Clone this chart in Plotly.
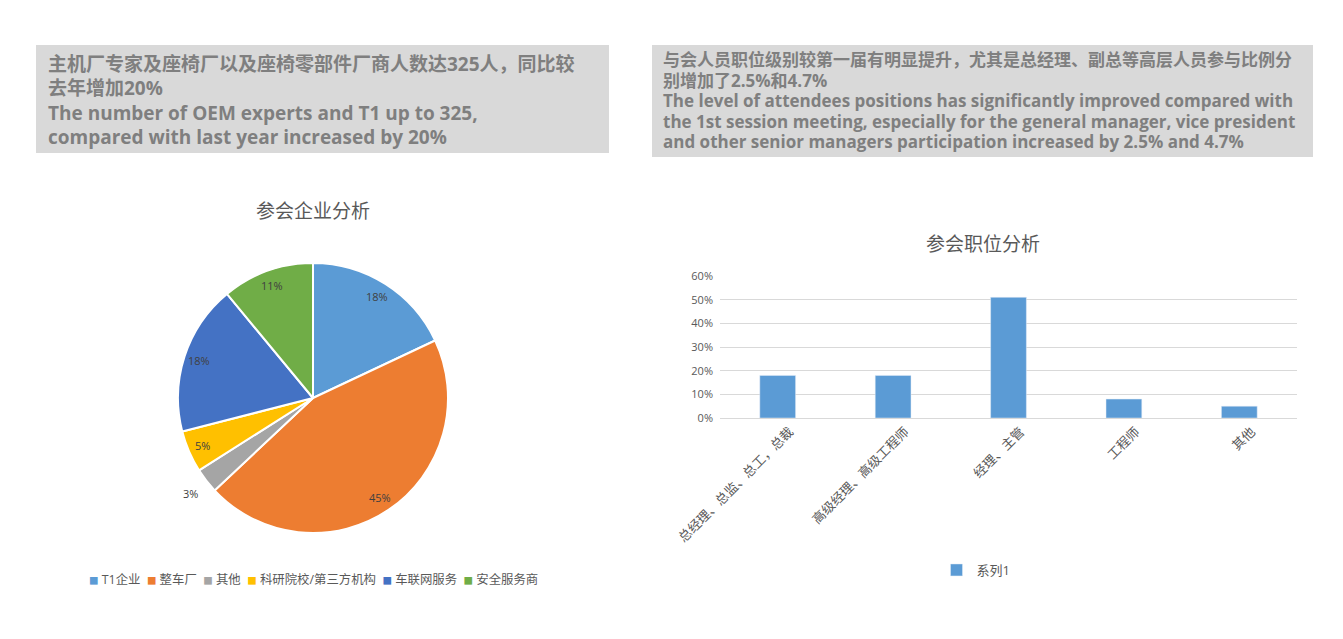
import math
import plotly.graph_objects as go

# ---- data ----
pie_title = "参会企业分析"
pie_labels = ["T1企业", "整车厂", "其他", "科研院校/第三方机构", "车联网服务", "安全服务商"]
pie_values = [18, 45, 3, 5, 18, 11]

bar_title = "参会职位分析"
bar_categories = ["总经理、总监、总工，总裁", "高级经理、高级工程师", "经理、主管", "工程师", "其他"]
bar_values = [0.18, 0.18, 0.51, 0.08, 0.05]
bar_series_name = "系列1"

left_lines = ["主机厂专家及座椅厂以及座椅零部件厂商人数达325人，同比较",
              "去年增加20%",
              "The number of OEM experts and T1 up to 325,",
              "compared with last year increased by 20%"]
right_lines = ["与会人员职位级别较第一届有明显提升，尤其是总经理、副总等高层人员参与比例分",
               "别增加了2.5%和4.7%",
               "The level of attendees positions has significantly improved compared with",
               "the 1st session meeting, especially for the general manager, vice president",
               "and other senior managers participation increased by 2.5% and 4.7%"]

# ---- styles ----
pie_colors = ["#5b9bd5", "#ed7d31", "#a5a5a5", "#ffc000", "#4472c4", "#70ad47"]
FONT = "Open Sans, Noto Sans CJK SC, sans-serif"
OFF = 8              # page body margin
W, H = 1343 - 2 * OFF, 639 - 2 * OFF


def px(x):
    return (x - OFF) / W


def py(y):
    return 1 - (y - OFF) / H


CX, CY, R = 313, 398, 135
LABEL_R_IN, LABEL_R_OUT = 120, 155

fig = go.Figure()

fig.add_trace(go.Pie(
    labels=pie_labels, values=pie_values, sort=False, direction="clockwise", rotation=0,
    marker=dict(colors=pie_colors, line=dict(color="white", width=2)),
    textinfo="none",
    domain=dict(x=[px(CX - R), px(CX + R)], y=[py(CY + R), py(CY - R)]),
    showlegend=False, hoverinfo="label+percent",
))

fig.add_trace(go.Bar(
    x=bar_categories, y=bar_values, name=bar_series_name,
    marker_color="#5b9bd5", xaxis="x", yaxis="y", legend="legend2",
    showlegend=True,
))

shapes = [
    dict(type="rect", xref="paper", yref="paper", x0=px(36), x1=px(609), y0=py(153), y1=py(45),
         fillcolor="#d9d9d9", line=dict(width=0), layer="below"),
    dict(type="rect", xref="paper", yref="paper", x0=px(652), x1=px(1313), y0=py(157), y1=py(45),
         fillcolor="#d9d9d9", line=dict(width=0), layer="below"),
]


def paragraph(lines, glyph_px):
    return "<br>".join(f'<span style="font-size:{glyph_px}px"><b>{ln}</b></span>' for ln in lines)


annotations = [
    # base font size sets the (tight) line spacing, span font size sets the glyph size
    dict(text=paragraph(left_lines, 19), xref="paper", yref="paper",
         x=px(46), y=py(100), xanchor="left", yanchor="middle", align="left",
         showarrow=False, font=dict(size=18.7, color="#7f7f7f", family=FONT)),
    dict(text=paragraph(right_lines, 17), xref="paper", yref="paper",
         x=px(661), y=py(100), xanchor="left", yanchor="middle", align="left",
         showarrow=False, font=dict(size=15.8, color="#7f7f7f", family=FONT)),
    dict(text=pie_title, xref="paper", yref="paper", x=px(313), y=py(211),
         xanchor="center", yanchor="middle", showarrow=False,
         font=dict(size=19, color="#595959", family=FONT)),
    dict(text=bar_title, xref="paper", yref="paper", x=px(983), y=py(244),
         xanchor="center", yanchor="middle", showarrow=False,
         font=dict(size=19, color="#595959", family=FONT)),
]

# pie data labels (placed near the outer edge like the original)
total = sum(pie_values)
cum = 0
for v in pie_values:
    mid = (cum + v / 2) / total * 2 * math.pi
    cum += v
    r = LABEL_R_OUT if v / total < 0.04 else LABEL_R_IN
    annotations.append(dict(text=f"{round(v / total * 100)}%", xref="paper", yref="paper",
                            x=px(CX + r * math.sin(mid)), y=py(CY - r * math.cos(mid)),
                            xanchor="center", yanchor="middle", showarrow=False,
                            font=dict(size=11, color="#404040", family=FONT)))

# pie legend
legend_parts = [f'<span style="color:{c};font-size:9.5px">■</span> {lab}'
                for lab, c in zip(pie_labels, pie_colors)]
annotations.append(dict(text="&nbsp;&nbsp;".join(legend_parts), xref="paper", yref="paper",
                        x=px(313), y=py(579), xanchor="center", yanchor="middle",
                        showarrow=False, font=dict(size=12.4, color="#595959", family=FONT)))

fig.update_layout(
    width=W, height=H, margin=dict(l=0, r=0, t=0, b=0, autoexpand=False),
    paper_bgcolor="white", plot_bgcolor="white",
    font=dict(family=FONT, color="#595959"),
    shapes=shapes, annotations=annotations,
    bargap=0.69,
    xaxis=dict(domain=[px(720), px(1297)], anchor="y", tickangle=-45,
               tickfont=dict(size=13, color="#595959", family="Noto Sans CJK SC"),
               showline=True, linecolor="#d9d9d9", showgrid=False, ticks="", fixedrange=True,
               ticklabelshift=12),
    yaxis=dict(domain=[py(418), py(276)], anchor="x", range=[0, 0.6], dtick=0.1,
               tickformat=".0%", tickfont=dict(size=11, color="#595959"),
               showgrid=True, gridcolor="#d9d9d9", zeroline=False, showline=False,
               ticks="", ticklabelstandoff=6),
    legend2=dict(orientation="h", x=px(976), y=py(570), xanchor="center", yanchor="middle",
                 font=dict(size=13, color="#595959", family=FONT)),
)

fig.write_html("out.html")
